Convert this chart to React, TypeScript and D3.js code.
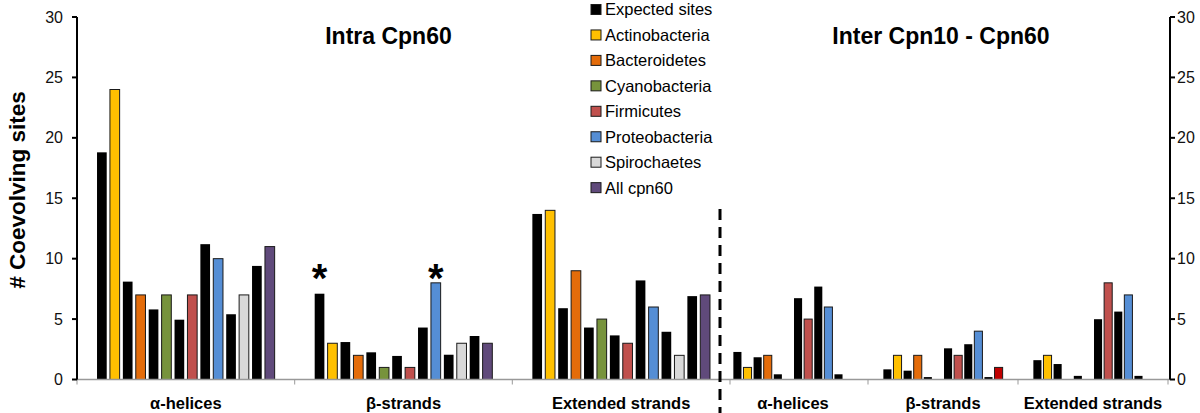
import React from "react";
import * as d3 from "d3";

const W = 1200;
const H = 413;

const categories = ["α-helices", "β-strands", "Extended strands"];
const yTicks = [0, 5, 10, 15, 20, 25, 30];

// Left chart: Intra Cpn60 (7 groups: expected + observed)
const leftGroups = ["Actinobacteria", "Bacteroidetes", "Cyanobacteria", "Firmicutes", "Proteobacteria", "Spirochaetes", "All cpn60"];
const leftColors = ["#FFC000", "#E46C0A", "#77933C", "#C0504D", "#558ED5", "#D9D9D9", "#604A7B"];
const leftExpected = [
  [18.8, 7.1, 13.7],
  [8.1, 3.1, 5.9],
  [5.8, 2.25, 4.3],
  [4.95, 1.95, 3.65],
  [11.2, 4.3, 8.2],
  [5.4, 2.05, 3.95],
  [9.4, 3.6, 6.9],
];
const leftObserved = [
  [24, 3, 14],
  [7, 2, 9],
  [7, 1, 5],
  [7, 1, 3],
  [10, 8, 6],
  [7, 3, 2],
  [11, 3, 7],
];

// Right chart: Inter Cpn10 - Cpn60 (6 groups)
const rightGroups = ["Actinobacteria", "Bacteroidetes", "Cyanobacteria", "Firmicutes", "Proteobacteria", "Other"];
const rightColors = ["#FFC000", "#E46C0A", "#77933C", "#C0504D", "#558ED5", "#C00000"];
const rightExpected = [
  [2.28, 0.84, 1.6],
  [1.84, 0.73, 1.28],
  [0.43, 0.2, 0.3],
  [6.73, 2.58, 4.99],
  [7.69, 2.92, 5.62],
  [0.43, 0.2, 0.3],
];
const rightObserved = [
  [1, 2, 2],
  [2, 2, 0],
  [0, 0, 0],
  [5, 2, 8],
  [6, 4, 7],
  [0, 1, 0],
];

const legendLabels = ["Expected sites", "Actinobacteria", "Bacteroidetes", "Cyanobacteria", "Firmicutes", "Proteobacteria", "Spirochaetes", "All cpn60"];
const legendColors = ["#000000", "#FFC000", "#E46C0A", "#77933C", "#C0504D", "#558ED5", "#D9D9D9", "#604A7B"];

// asterisk markers: [category index, bar index]
const asterisks = [
  [1, 0],
  [1, 9],
];

const FONT = "'Liberation Sans', Arial, Helvetica, sans-serif";

type Bar = { x: number; y: number; w: number; h: number; fill: string; stroke: string; key: string };

function buildBars(
  expected: number[][],
  observed: number[][],
  colors: string[],
  x0: number,
  x1: number,
  pi: number,
  po: number,
  y: d3.ScaleLinear<number, number>,
  prefix: string
) {
  const cat = d3.scaleBand<string>().domain(categories).range([x0, x1]).padding(0);
  const n = expected.length * 2;
  const inner = d3
    .scaleBand<number>()
    .domain(d3.range(n))
    .range([0, cat.bandwidth()])
    .paddingInner(pi)
    .paddingOuter(po);
  const bars: Bar[] = [];
  categories.forEach((c, ci) => {
    expected.forEach((row, gi) => {
      const e = row[ci];
      const o = observed[gi][ci];
      if (e > 0) {
        bars.push({
          key: `${prefix}-e-${ci}-${gi}`,
          x: (cat(c) as number) + (inner(gi * 2) as number),
          y: y(e),
          w: inner.bandwidth(),
          h: y(0) - y(e),
          fill: "#000",
          stroke: "none",
        });
      }
      if (o > 0) {
        bars.push({
          key: `${prefix}-o-${ci}-${gi}`,
          x: (cat(c) as number) + (inner(gi * 2 + 1) as number),
          y: y(o),
          w: inner.bandwidth(),
          h: y(0) - y(o),
          fill: colors[gi],
          stroke: "#1a1a1a",
        });
      }
    });
  });
  return { cat, inner, bars };
}

export default function App() {
  const y = d3.scaleLinear().domain([0, 30]).range([379.5, 17]);
  const axL = 77;
  const axR = 1170;
  const left = buildBars(leftExpected, leftObserved, leftColors, 77, 730, 0.25, 1.55, y, "L");
  const right = buildBars(rightExpected, rightObserved, rightColors, 718, 1168, 0.2, 1.52, y, "R");

  const catTicks = [77, 294.7, 512.3, 730, 868, 1018, 1168];

  return (
    <svg width={W} height={H} style={{ position: "absolute", left: 0, top: 0 }} fontFamily={FONT}>
      <rect x={0} y={0} width={W} height={H} fill="#fff" />

      {/* bars */}
      {[...left.bars, ...right.bars].map((b) => (
        <rect
          key={b.key}
          x={b.x}
          y={b.y}
          width={b.w}
          height={b.h}
          fill={b.fill}
          stroke={b.stroke}
          strokeWidth={b.stroke === "none" ? 0 : 1}
        />
      ))}

      {/* baseline */}
      <line x1={axL} x2={axR} y1={y(0)} y2={y(0)} stroke="#999" strokeWidth={1.5} />
      {catTicks.map((t) => (
        <line key={t} x1={t} x2={t} y1={y(0)} y2={y(0) + 5} stroke="#999" strokeWidth={1} />
      ))}

      {/* left axis */}
      <line x1={axL} x2={axL} y1={y(30)} y2={y(0)} stroke="#000" strokeWidth={2} />
      {yTicks.map((t) => (
        <g key={"l" + t}>
          <line x1={axL - 5} x2={axL} y1={y(t)} y2={y(t)} stroke="#000" strokeWidth={2} />
          <text x={63} y={y(t)} dy="0.35em" textAnchor="end" fontSize={16} fill="#111">
            {t}
          </text>
        </g>
      ))}

      {/* right axis */}
      <line x1={axR} x2={axR} y1={y(30)} y2={y(0)} stroke="#000" strokeWidth={2} />
      {yTicks.map((t) => (
        <g key={"r" + t}>
          <line x1={axR} x2={axR + 5} y1={y(t)} y2={y(t)} stroke="#000" strokeWidth={2} />
          <text x={1177} y={y(t)} dy="0.35em" textAnchor="start" fontSize={16} fill="#111">
            {t}
          </text>
        </g>
      ))}

      {/* y label */}
      <text
        transform={`translate(25, 190) rotate(-90)`}
        textAnchor="middle"
        fontSize={22.5}
        fontWeight="bold"
        fill="#000"
      >
        # Coevolving sites
      </text>

      {/* category labels */}
      {categories.map((c) => (
        <text
          key={"lc" + c}
          x={(left.cat(c) as number) + left.cat.bandwidth() / 2}
          y={409}
          textAnchor="middle"
          fontSize={16.5}
          fontWeight="bold"
        >
          {c}
        </text>
      ))}
      {categories.map((c) => (
        <text
          key={"rc" + c}
          x={(right.cat(c) as number) + right.cat.bandwidth() / 2}
          y={409}
          textAnchor="middle"
          fontSize={16.5}
          fontWeight="bold"
        >
          {c}
        </text>
      ))}

      {/* titles */}
      <text x={388.5} y={44} textAnchor="middle" fontSize={23} fontWeight="bold">
        Intra Cpn60
      </text>
      <text x={941} y={44} textAnchor="middle" fontSize={23} fontWeight="bold">
        Inter Cpn10 - Cpn60
      </text>

      {/* dashed separator */}
      <line x1={720} x2={720} y1={209} y2={413} stroke="#000" strokeWidth={3} strokeDasharray="11 7" />

      {/* asterisks */}
      {asterisks.map(([ci, bi]) => {
        const cx =
          (left.cat(categories[ci]) as number) + (left.inner(bi) as number) + left.inner.bandwidth() / 2;
        return (
          <text key={`a${ci}-${bi}`} x={cx} y={292} textAnchor="middle" fontSize={40} fontWeight="bold">
            *
          </text>
        );
      })}

      {/* legend */}
      {legendLabels.map((l, i) => (
        <g key={l} transform={`translate(591, ${9.5 + i * 25.45})`}>
          <rect x={0} y={-5} width={10} height={10} fill={legendColors[i]} stroke="#1a1a1a" strokeWidth={1} />
          <text x={14} y={0} dy="0.36em" fontSize={16.5} fill="#000">
            {l}
          </text>
        </g>
      ))}
    </svg>
  );
}
